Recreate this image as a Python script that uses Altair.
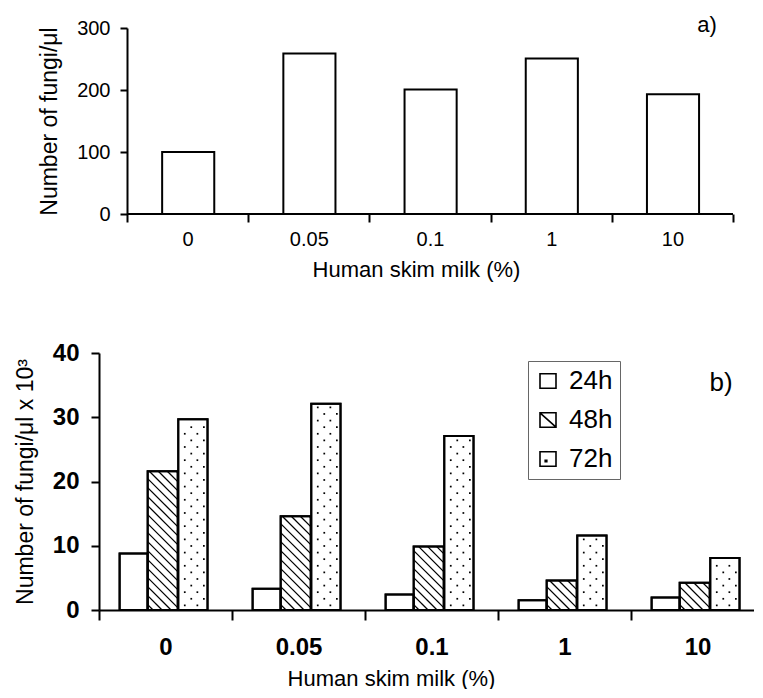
import json
import altair as alt
import pandas as pd

# ---------------- data ----------------
categories = ["0", "0.05", "0.1", "1", "10"]
top_values = [100, 259, 201, 251, 193]
series = ["24h", "48h", "72h"]
val_24h = [8.8, 3.3, 2.4, 1.5, 1.95]
val_48h = [21.6, 14.6, 9.9, 4.6, 4.25]
val_72h = [29.7, 32.1, 27.1, 11.6, 8.1]

# ---------------- layout / style ----------------
FONT_N = "Liberation Sans, Arial, Helvetica, sans-serif"
FONT_R = "Liberation Sans, Arial, Helvetica, sans-serif"

TOP_H = 186
TOP_CAT = 121.2
TOP_SHIFT = 28
TOP_W = TOP_SHIFT + 5 * TOP_CAT
TOP_X0 = -TOP_SHIFT / TOP_CAT

BOT_H = 257
BOT_CAT = 133
BOT_W = 655
BOT_XMAX = BOT_W / BOT_CAT
BOT_YMAX = 40
BOT_TOP_REL = 326  # bottom plot top relative to top plot top

HATCH_STEP = 9.0
DOT_DX = 12.6
DOT_DY = 6.6

n = len(categories)
label_expr = "datum.value % 1 === 0.5 ? " + json.dumps(categories) + "[floor(datum.value)] : ''"
tick_cond = {"condition": {"test": "datum.value % 1 === 0", "value": 1}, "value": 0}

# ---------------- top chart ----------------
top_df = pd.DataFrame({"cat": categories, "idx": list(range(n)), "value": top_values})
top_df["x0"] = top_df["idx"] + 0.29
top_df["x1"] = top_df["idx"] + 0.72

top_x_scale = alt.Scale(domain=[TOP_X0, n], nice=False, zero=False)
top_y_scale = alt.Scale(domain=[0, 300], nice=False)

top_bars = alt.Chart(top_df).mark_rect(fill="white", stroke="black", strokeWidth=2).encode(
    x=alt.X("x0:Q", scale=top_x_scale,
            axis=alt.Axis(values=[i * 0.5 for i in range(2 * n + 1)], labelExpr=label_expr,
                          tickOpacity=tick_cond, tickSize=8, labelPadding=7, domain=False,
                          labelFont=FONT_N, labelFontSize=20, labelOverlap=False, labelFlush=False,
                          title="Human skim milk (%)", titleFont=FONT_N, titleFontSize=22,
                          titleFontWeight="normal", titlePadding=10)),
    x2="x1:Q",
    y=alt.Y("value:Q", scale=top_y_scale,
            axis=alt.Axis(values=[0, 100, 200, 300], offset=-TOP_SHIFT, tickSize=7, labelPadding=10,
                          labelFont=FONT_N, labelFontSize=20, title="Number of fungi/μl",
                          titleFont=FONT_R, titleFontSize=23, titleFontWeight="normal",
                          titlePadding=15)),
    y2=alt.datum(0),
)

top_axis_line = alt.Chart(pd.DataFrame({"a": [0], "b": [n]})).mark_rule(
    color="black", strokeWidth=2).encode(x="a:Q", x2="b:Q", y=alt.datum(0))

top_label = alt.Chart(pd.DataFrame({"t": ["a)"]})).mark_text(
    font=FONT_N, fontSize=22, align="center", baseline="middle", color="black"
).encode(text="t:N", x=alt.value(608), y=alt.value(-3))

top_chart = alt.layer(top_bars, top_axis_line, top_label).properties(width=TOP_W, height=TOP_H)

# ---------------- bottom chart ----------------
offsets = {"24h": (0.155, 0.366), "48h": (0.366, 0.592), "72h": (0.596, 0.816)}
vals = {"24h": val_24h, "48h": val_48h, "72h": val_72h}
rows = []
for s in series:
    for i, c in enumerate(categories):
        rows.append({"series": s, "cat": c, "idx": i, "value": vals[s][i],
                     "x0": i + offsets[s][0], "x1": i + offsets[s][1],
                     "xc": i + (offsets[s][0] + offsets[s][1]) / 2})
bot_df = pd.DataFrame(rows)

px_x = BOT_CAT
px_y = BOT_H / BOT_YMAX

# hatch lines for 48h bars
hatch = []
for r in rows:
    if r["series"] != "48h":
        continue
    w = (r["x1"] - r["x0"]) * px_x
    H = r["value"] * px_y
    c = HATCH_STEP * 0.6
    while c < H + w:
        xs = max(0.0, c - H)
        ys = min(c, H)
        xe = min(w, c)
        ye = max(c - w, 0.0)
        if xe > xs + 0.5:
            hatch.append({"hx": r["x0"] + xs / px_x, "hy": ys / px_y,
                          "hx2": r["x0"] + xe / px_x, "hy2": ye / px_y})
        c += HATCH_STEP
hatch_df = pd.DataFrame(hatch)

# dots for 72h bars
dots = []
for r in rows:
    if r["series"] != "72h":
        continue
    w = (r["x1"] - r["x0"]) * px_x
    H = r["value"] * px_y
    y = DOT_DY * 0.7
    k = 0
    while y < H - 2:
        x = 6.5 if k % 2 == 0 else 13.0
        while x < w - 3:
            dots.append({"dx": r["x0"] + x / px_x, "dy": y / px_y})
            x += DOT_DX
        y += DOT_DY
        k += 1
dots_df = pd.DataFrame(dots)

bot_x_scale = alt.Scale(domain=[0, BOT_XMAX], nice=False, zero=False)
bot_y_scale = alt.Scale(domain=[0, BOT_YMAX], nice=False)

bot_bars = alt.Chart(bot_df).mark_rect(fill="white", stroke="black", strokeWidth=2).encode(
    x=alt.X("x0:Q", scale=bot_x_scale,
            axis=alt.Axis(values=[i * 0.5 for i in range(2 * n)], labelExpr=label_expr,
                          tickOpacity=tick_cond, tickSize=10, labelPadding=15,
                          labelFont=FONT_N, labelFontSize=24, labelFontWeight="bold",
                          labelOverlap=False, labelFlush=False,
                          title="Human skim milk (%)", titleFont=FONT_N, titleFontSize=22,
                          titleFontWeight="normal", titlePadding=9, titleX=292)),
    x2="x1:Q",
    y=alt.Y("value:Q", scale=bot_y_scale,
            axis=alt.Axis(values=[0, 10, 20, 30, 40], tickSize=8, labelPadding=12,
                          labelFont=FONT_N, labelFontSize=24, labelFontWeight="bold",
                          title="Number of fungi/μl x 10³", titleFont=FONT_R, titleFontSize=23,
                          titleFontWeight="normal", titlePadding=15)),
    y2=alt.datum(0),
)

bot_hatch = alt.Chart(hatch_df).mark_rule(color="black", strokeWidth=1.3).encode(
    x="hx:Q", y="hy:Q", x2="hx2:Q", y2="hy2:Q")

bot_dots = alt.Chart(dots_df).mark_square(color="black", size=3, opacity=1).encode(
    x="dx:Q", y="dy:Q")

bot_outline = alt.Chart(bot_df).mark_rect(fillOpacity=0, stroke="black", strokeWidth=2).encode(
    x="x0:Q", x2="x1:Q", y="value:Q", y2=alt.datum(0))

shape_paths = [
    "M-1,-0.9H1V0.9H-1Z",
    "M-1,-0.9H1V0.9H-1Z M-1,-0.9L1,0.9",
    "M-1,-0.9H1V0.9H-1Z M-0.35,0.15H-0.15V0.35H-0.35Z",
]
bot_legend = alt.Chart(bot_df).mark_point(opacity=0).encode(
    x="xc:Q", y="value:Q",
    shape=alt.Shape("series:N", scale=alt.Scale(domain=series, range=shape_paths),
                    legend=alt.Legend(title=None, orient="none", legendX=429,
                                      legendY=BOT_TOP_REL + 7,
                                      strokeColor="#666", padding=7, fillColor="white",
                                      labelFont=FONT_N, labelFontSize=26, labelColor="black",
                                      symbolSize=256, symbolStrokeWidth=1.6,
                                      symbolFillColor="white", symbolStrokeColor="black",
                                      symbolOpacity=1, rowPadding=13, labelOffset=8)),
)

bot_label = alt.Chart(pd.DataFrame({"t": ["b)"]})).mark_text(
    font=FONT_N, fontSize=26, align="center", baseline="middle", color="black"
).encode(text="t:N", x=alt.value(622), y=alt.value(30))

bot_chart = alt.layer(bot_bars, bot_hatch, bot_dots, bot_outline, bot_legend, bot_label).properties(
    width=BOT_W, height=BOT_H)

chart = alt.vconcat(top_chart, bot_chart, spacing=61).properties(
    padding={"left": 6, "top": 6, "right": 0, "bottom": 0}
).configure_view(stroke=None).configure_axis(
    domainColor="black", domainWidth=2, tickColor="black", tickWidth=2,
    labelColor="black", titleColor="black", grid=False
)

chart.save("out.html", embed_options={"renderer": "svg", "actions": False})
